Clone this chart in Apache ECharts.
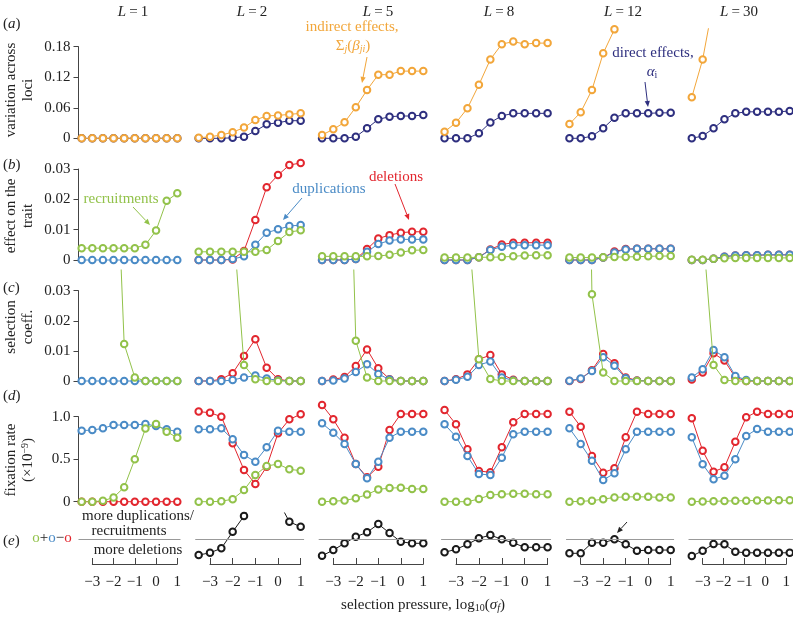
<!DOCTYPE html>
<html><head><meta charset="utf-8">
<script src="https://cdn.jsdelivr.net/npm/echarts@6/dist/echarts.min.js"></script>
<style>html,body{margin:0;padding:0;background:#fff}#c{width:793px;height:617px}</style>
</head><body><div id="c"></div>
<script>
// ---------------- DATA ----------------
const logSigma = [-3.5,-3,-2.5,-2,-1.5,-1,-0.5,0,0.5,1];
const locusCounts = ['1','2','5','8','12','30'];
const xTicks = [-3,-2,-1,0,1];

// (a) variation across loci
const directEffects = [
 [0,0,0,0,0,0,0,0,0,0],
 [0,0,0,0.001,0.003,0.0143,0.0275,0.0307,0.0346,0.0346],
 [0,0,0,0.003,0.0196,0.0373,0.0424,0.0438,0.0438,0.0458],
 [0,0,0,0.0098,0.031,0.044,0.049,0.049,0.049,0.049],
 [0,0,0.004,0.0196,0.0405,0.049,0.049,0.049,0.05,0.05],
 [0,0.0045,0.0196,0.0373,0.049,0.052,0.052,0.052,0.052,0.0537]
];
const indirectEffects = [
 [0,0,0,0,0,0,0,0,0,0],
 [0.001,0.003,0.0065,0.012,0.021,0.036,0.044,0.045,0.047,0.049],
 [0.0065,0.0177,0.0314,0.061,0.095,0.125,0.125,0.132,0.132,0.132],
 [0.013,0.0306,0.059,0.105,0.155,0.185,0.19,0.185,0.187,0.187],
 [0.028,0.051,0.095,0.167,0.214,0.26,0.28,0.29,0.29,0.29],
 [0.0805,0.155,0.27,0.31,0.33,0.34,0.34,0.34,0.34,0.34]
];
// (b) effect on the trait
const effectDeletions = [
 [],
 [0,0,0,0.0002,0.003,0.0132,0.024,0.028,0.0313,0.032],
 [0,0,0,0.0003,0.0036,0.0071,0.0082,0.009,0.0093,0.0093],
 [0,0,0,0.0009,0.0035,0.0051,0.0057,0.0057,0.0057,0.0057],
 [0,0,0,0.0008,0.0028,0.0036,0.0037,0.0037,0.0037,0.0037],
 [0,0,0.0004,0.0011,0.0015,0.0016,0.0016,0.0017,0.0017,0.0017]
];
const effectDuplications = [
 [0,0,0,0,0,0,0,0,0,0],
 [0,0,0,0.0003,0.0012,0.005,0.009,0.0101,0.0112,0.0115],
 [0,0,0,0.0003,0.0027,0.0053,0.0064,0.0068,0.0068,0.0068],
 [0,0,0,0.0009,0.0033,0.0044,0.0049,0.0049,0.0049,0.0049],
 [0,0,0,0.0008,0.0025,0.0035,0.0037,0.0037,0.0037,0.0037],
 [0,0,0.0004,0.0011,0.0015,0.0016,0.0016,0.0017,0.0017,0.0017]
];
const effectRecruitments = [
 [0.0039,0.0039,0.0039,0.0039,0.0039,0.0039,0.005,0.0097,0.0195,0.022],
 [0.0027,0.0027,0.0027,0.0027,0.0027,0.0027,0.0033,0.0063,0.0092,0.0098],
 [0.0012,0.0012,0.0012,0.0012,0.0012,0.0013,0.0017,0.0025,0.0032,0.0033],
 [0.0008,0.0008,0.0008,0.0009,0.0009,0.001,0.0012,0.0015,0.0016,0.0016],
 [0.0008,0.0008,0.0008,0.0009,0.001,0.001,0.0011,0.0012,0.0013,0.0013],
 [0.0001,0.0001,0.0004,0.0006,0.0007,0.0007,0.0007,0.0007,0.0007,0.0007]
];
// (c) selection coefficient
const selDeletions = [
 [],
 [0,0,0.0006,0.0026,0.0083,0.0139,0.0044,0.0006,0,0],
 [0,0.0005,0.0013,0.005,0.0105,0.0042,0.0006,0,0,0],
 [0,0.0006,0.0022,0.0072,0.0086,0.0022,0.0004,0,0,0],
 [0,0.0007,0.0036,0.009,0.0059,0.0012,0.0002,0,0,0],
 [0.0005,0.0028,0.0092,0.0068,0.0012,0,0,0,0,0]
];
const selDuplications = [
 [0,0,0,0,0,0,0,0,0,0],
 [0,0,0,0.0003,0.0012,0.0018,0.0008,0.0002,0,0],
 [0,0.0002,0.0008,0.003,0.0056,0.0023,0.0005,0,0,0],
 [0,0.0004,0.0014,0.0053,0.0065,0.0012,0.0002,0,0,0],
 [0.0001,0.0008,0.0033,0.0079,0.0051,0.0009,0.0001,0,0,0],
 [0.0012,0.0039,0.0103,0.0079,0.0017,0.0003,0,0,0,0]
];
const selRecruitments = [
 [0.12,0.11,0.1,0.1,0.0123,0.0012,0,0,0,0],
 [0.1,0.09,0.07,0.055,0.0053,0.0006,0,0,0,0],
 [0.2,0.18,0.145,0.0134,0.0012,0,0,0,0,0],
 [0.1,0.08,0.056,0.0072,0.0007,0,0,0,0,0],
 [0.3,0.25,0.0288,0.0028,0,0,0,0,0,0],
 [0.1,0.051,0.0053,0.0003,0,0,0,0,0,0]
];
// (d) fixation rate (x1e-9)
const fixDeletions = [
 [0,0,0,0,0,0,0,0,0,0],
 [1.06,1.047,1.0,0.687,0.373,0.208,0.412,0.805,0.969,1.028],
 [1.138,0.969,0.753,0.443,0.287,0.412,0.843,1.032,1.032,1.032],
 [1.079,0.91,0.616,0.361,0.346,0.64,0.934,1.032,1.032,1.032],
 [1.059,0.882,0.538,0.341,0.393,0.757,1.059,1.032,1.032,1.032],
 [0.981,0.6,0.353,0.404,0.706,0.993,1.059,1.032,1.032,1.032]
];
const fixDuplications = [
 [0.836,0.843,0.863,0.902,0.902,0.902,0.914,0.89,0.851,0.824],
 [0.851,0.851,0.863,0.734,0.549,0.471,0.64,0.835,0.824,0.824],
 [0.922,0.812,0.679,0.443,0.275,0.47,0.753,0.824,0.824,0.824],
 [0.91,0.765,0.538,0.326,0.314,0.518,0.793,0.824,0.824,0.824],
 [0.863,0.679,0.482,0.255,0.334,0.616,0.824,0.824,0.824,0.824],
 [0.757,0.44,0.263,0.306,0.499,0.773,0.855,0.824,0.824,0.824]
];
const fixRecruitments = [
 [0,0,0.01,0.05,0.17,0.5,0.86,0.914,0.824,0.753],
 [0,0,0.005,0.03,0.137,0.314,0.42,0.443,0.381,0.365],
 [0,0.005,0.015,0.04,0.085,0.145,0.16,0.165,0.15,0.15],
 [0,0,0,0.032,0.079,0.087,0.094,0.094,0.087,0.087],
 [0,0.004,0.012,0.03,0.05,0.057,0.057,0.057,0.05,0.05],
 [0,0.003,0.005,0.008,0.01,0.012,0.014,0.015,0.016,0.016]
];
// (e) duplications + recruitments - deletions (relative units)
const netBalance = [
 [],
 [-0.63,-0.54,-0.36,0.3,0.93,1.6,2.0,1.56,0.7,0.5],
 [-0.66,-0.43,-0.16,0.1,0.28,0.61,0.25,-0.1,-0.16,-0.16],
 [-0.52,-0.4,-0.2,0.04,0.17,0,-0.14,-0.32,-0.32,-0.32],
 [-0.56,-0.56,-0.14,-0.14,0,-0.2,-0.46,-0.43,-0.43,-0.43],
 [-0.67,-0.46,-0.19,-0.2,-0.5,-0.54,-0.54,-0.54,-0.54,-0.54]
];
const rowTicks = [[0,0.06,0.12,0.18],[0,0.01,0.02,0.03],[0,0.01,0.02,0.03],[0,0.5,1.0]];

// ---------------- LAYOUT ----------------
const colTickM3 = [92.3,210,333.3,456,580.7,702.7];
const colUnit = [21.25,22.67,22.5,22.9,22.5,21.8];
const rowZeroY = [138.3,260,381,501.7,539.3];
const rowScale = [509,3033,3010,85,25];
const rowMin = [-0.02,-0.002,-0.002,-0.06,-0.9];
const rowMax = [0.215,0.035,0.0369,1.25,1.05];
const C = {orange:'#F2A63A', navy:'#2E2F7F', red:'#E2262E', blue:'#4A8BC6', green:'#92C24A', black:'#1a1a1a'};
const F = "'Liberation Serif', 'DejaVu Serif', serif";
const AX = '#444';

const grids=[], xAxes=[], yAxes=[], series=[];
function addGrid(g, xa, ya){ grids.push(g); const i=grids.length-1; xAxes.push(Object.assign({gridIndex:i},xa)); yAxes.push(Object.assign({gridIndex:i},ya)); return i; }
function pts(arr){ return arr.map((v,i)=>[logSigma[i], v]); }
function lineSeries(gi, arr, color, z){
  return {type:'line', xAxisIndex:gi, yAxisIndex:gi, data:pts(arr), symbol:'emptyCircle', symbolSize:6.5,
    lineStyle:{color, width:1}, itemStyle:{color, borderColor:color, borderWidth:1}, z, silent:true, animation:false};
}
const rowSeries = [
  [[directEffects,C.navy],[indirectEffects,C.orange]],
  [[effectDeletions,C.red],[effectDuplications,C.blue],[effectRecruitments,C.green]],
  [[selDeletions,C.red],[selDuplications,C.blue],[selRecruitments,C.green]],
  [[fixDeletions,C.red],[fixDuplications,C.blue],[fixRecruitments,C.green]],
  [[netBalance,C.black]]
];
for(let r=0;r<5;r++){
  for(let c=0;c<6;c++){
    const u=colUnit[c];
    const gi = addGrid(
      {left: colTickM3[c]-0.65*u, width: 4.8*u, top: rowZeroY[r]-rowMax[r]*rowScale[r], height:(rowMax[r]-rowMin[r])*rowScale[r]},
      {type:'value', min:-3.65, max:1.15, show:false},
      {type:'value', min:rowMin[r], max:rowMax[r], show:false});
    rowSeries[r].forEach((s,k)=>{
      const ser = lineSeries(gi, s[0][c], s[1], 2+k);
      if(r===4){
        ser.markLine = {silent:true, symbol:'none', label:{show:false}, animation:false,
          lineStyle:{color:'#999', type:'solid', width:1}, data:[{yAxis:0}]};
      }
      series.push(ser);
    });
  }
}
// y axes (column 1)
for(let r=0;r<4;r++){
  const t=rowTicks[r], top=rowZeroY[r]-t[t.length-1]*rowScale[r];
  addGrid({left: colTickM3[0]-0.65*colUnit[0], width: 4.8*colUnit[0], top, height: t[t.length-1]*rowScale[r]},
    {type:'value', min:0, max:1, show:false},
    {type:'value', min:0, max:t[t.length-1], interval:t[1], splitLine:{show:false},
     axisLine:{show:true, lineStyle:{color:AX, width:1}}, axisTick:{show:true, length:5, lineStyle:{color:AX}},
     axisLabel:{fontFamily:F, fontSize:15, color:'#222', margin:8,
       formatter: v => v===0 ? '0' : (r===3 ? v.toFixed(1) : v.toFixed(2))}});
}
// x axes (bottom)
for(let c=0;c<6;c++){
  addGrid({left: colTickM3[c], width: 4*colUnit[c], top: 554, height: 10},
    {type:'value', min:xTicks[0], max:xTicks[xTicks.length-1], interval:1, position:'bottom', splitLine:{show:false},
     axisLine:{show:true, lineStyle:{color:AX, width:1}}, axisTick:{show:true, inside:true, length:6, lineStyle:{color:AX}},
     axisLabel:{fontFamily:F, fontSize:15, color:'#222', margin:11, formatter: v => v<0 ? '\u2212'+Math.abs(v) : String(v)}},
    {type:'value', min:0, max:1, show:false});
}

// ---------------- ANNOTATIONS ----------------
function rich(s){ return {
  it:{fontStyle:'italic', fontFamily:F, fontSize:s},
  sub:{fontFamily:F, fontSize:Math.round(s*0.68), verticalAlign:'bottom'},
  itsub:{fontFamily:F, fontStyle:'italic', fontSize:Math.round(s*0.68), verticalAlign:'bottom'},
  sup:{fontFamily:F, fontSize:Math.round(s*0.68), verticalAlign:'top'},
  g:{fill:C.green, fontFamily:F, fontSize:s}, b:{fill:C.blue, fontFamily:F, fontSize:s}, rr:{fill:C.red, fontFamily:F, fontSize:s}, k:{fill:'#222', fontFamily:F, fontSize:s}
};}
function txt(x,y,text,o={}){
  const s=o.size||15;
  return {type:'text', x, y, rotation:o.rot||0, z:100, silent:true,
    style:{text, fill:o.color||'#222', font:`${s}px ${F}`, textAlign:o.align||'center', textVerticalAlign:'middle', rich:rich(s), lineHeight:o.lh||s+2}};
}
function arrow(x1,y1,x2,y2,color){
  const a=Math.atan2(y2-y1,x2-x1), L=6, W=2.6;
  const bx=x2-L*Math.cos(a), by=y2-L*Math.sin(a);
  return [{type:'line', z:100, silent:true, shape:{x1,y1,x2:bx,y2:by}, style:{stroke:color, lineWidth:1}},
    {type:'polygon', z:100, silent:true, shape:{points:[[x2,y2],[bx-W*Math.sin(a),by+W*Math.cos(a)],[bx+W*Math.sin(a),by-W*Math.cos(a)]]}, style:{fill:color}}];
}
const graphic = [];
const headerX=[133,252,378,499,623,739];
locusCounts.forEach((L,i)=>graphic.push(txt(headerX[i],12,'{it|L}\u2009=\u2009'+L)));
graphic.push(txt(3,24,'({it|a})',{align:'left'}));
graphic.push(txt(3,165,'({it|b})',{align:'left'}));
graphic.push(txt(3,288,'({it|c})',{align:'left'}));
graphic.push(txt(3,396,'({it|d})',{align:'left'}));
graphic.push(txt(3,541,'({it|e})',{align:'left'}));
graphic.push(txt(20,90,'variation across\nloci',{rot:Math.PI/2, lh:17}));
graphic.push(txt(20,216,'effect on the\ntrait',{rot:Math.PI/2, lh:17}));
graphic.push(txt(20,327,'selection\ncoeff.',{rot:Math.PI/2, lh:17}));
graphic.push(txt(20,460,'fixation rate\n(\u00d710{sup|\u22129})',{rot:Math.PI/2, lh:17}));
graphic.push(txt(352,27,'indirect effects,',{color:C.orange}));
graphic.push(txt(353,46,'\u03a3{itsub|j}({it|\u03b2}{itsub|ji})',{color:C.orange}));
graphic.push(...arrow(367,57,362,83,C.orange));
graphic.push(txt(653,53,'direct effects,',{color:C.navy}));
graphic.push(txt(652,72,'{it|\u03b1}{sub|i}',{color:C.navy}));
graphic.push(...arrow(645,82,648,107,C.navy));
graphic.push(txt(121,199,'recruitments',{color:C.green}));
graphic.push(...arrow(133,207,150,225,C.green));
graphic.push(txt(329,189,'duplications',{color:C.blue}));
graphic.push(...arrow(302,198,283,220,C.blue));
graphic.push(txt(396,177,'deletions',{color:C.red}));
graphic.push(...arrow(395,184,409,220,C.red));
graphic.push(...arrow(627,522,617,533,'#222'));
graphic.push(txt(138,516,'more duplications/'));
graphic.push(txt(129,531,'recruitments'));
graphic.push(txt(138,550,'more deletions'));
graphic.push(txt(52,538,'{g|o}{k|+}{b|o}{k|\u2212}{rr|o}'));
graphic.push(txt(423,605,'selection pressure, log{sub|10}({it|\u03c3}{itsub|f})'));

const chart = echarts.init(document.getElementById('c'));
chart.setOption({animation:false, backgroundColor:'#fff', grid:grids, xAxis:xAxes, yAxis:yAxes, series, graphic});
</script></body></html>
